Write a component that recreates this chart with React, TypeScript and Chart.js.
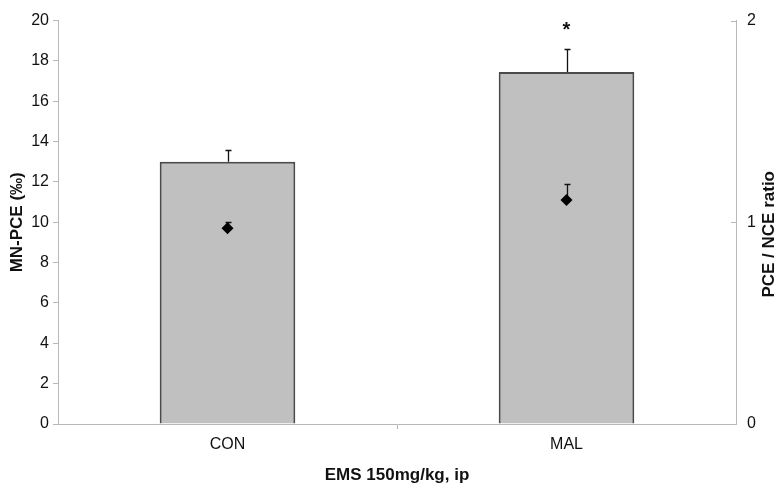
import React, { useEffect, useRef } from 'react';
import { Chart, registerables } from 'chart.js';

Chart.register(...registerables);

const categories = ['CON', 'MAL'];
const mnPce = [13.0, 17.45];
const mnPceErr = [0.6, 1.13];
const ratio = [0.97, 1.11];
const ratioErr = [0.03, 0.08];
const significance = ['', '*'];

const yTitle = 'MN-PCE (‰)';
const y1Title = 'PCE / NCE ratio';
const xTitle = 'EMS 150mg/kg, ip';

const FONT = "'Liberation Sans', Arial, sans-serif";
const TEXT = '#111111';
const AXIS = '#b8b8b8';
const TITLE_SIZE = 17;

const errorPlugin = {
  id: 'errorBars',
  afterDatasetDraw(chart: any, args: any) {
    if (args.index !== 0) return;
    const ctx = chart.ctx;
    const draw = (dsIndex: number, values: number[], errs: number[], scaleId: string) => {
      const meta = chart.getDatasetMeta(dsIndex);
      const scale = chart.scales[scaleId];
      meta.data.forEach((el: any, i: number) => {
        const x = Math.round(el.x) + 0.5;
        const y0 = scale.getPixelForValue(values[i]);
        const y1 = Math.round(scale.getPixelForValue(values[i] + errs[i])) + 0.5;
        ctx.save();
        ctx.strokeStyle = '#111';
        ctx.lineWidth = 1.3;
        ctx.beginPath();
        ctx.moveTo(x, y0);
        ctx.lineTo(x, y1);
        ctx.moveTo(x - 3, y1);
        ctx.lineTo(x + 3, y1);
        ctx.stroke();
        ctx.restore();
      });
    };
    draw(0, mnPce, mnPceErr, 'y');
    draw(1, ratio, ratioErr, 'y1');
  },
  afterDatasetsDraw(chart: any) {
    const ctx = chart.ctx;
    const meta = chart.getDatasetMeta(0);
    const scale = chart.scales.y;
    meta.data.forEach((el: any, i: number) => {
      if (!significance[i]) return;
      const yTop = scale.getPixelForValue(mnPce[i] + mnPceErr[i]);
      ctx.save();
      ctx.fillStyle = TEXT;
      ctx.font = `bold 20px ${FONT}`;
      ctx.textAlign = 'center';
      ctx.textBaseline = 'middle';
      ctx.fillText(significance[i], el.x, yTop - 19);
      ctx.restore();
    });
  },
  afterDraw(chart: any) {
    const ctx = chart.ctx;
    const s = chart.scales.y1;
    ctx.save();
    ctx.strokeStyle = AXIS;
    ctx.lineWidth = 1;
    s.ticks.forEach((t: any) => {
      const y = Math.round(s.getPixelForValue(t.value)) + 0.5;
      ctx.beginPath();
      ctx.moveTo(s.left - 5, y);
      ctx.lineTo(s.left, y);
      ctx.stroke();
    });
    // right axis title, rotated like the left one
    ctx.fillStyle = TEXT;
    ctx.font = `bold ${TITLE_SIZE}px ${FONT}`;
    ctx.textAlign = 'center';
    ctx.textBaseline = 'middle';
    ctx.translate(s.right - 8, (s.top + s.bottom) / 2 + 12);
    ctx.rotate(-Math.PI / 2);
    ctx.fillText(y1Title, 0, 0);
    ctx.restore();
  },
};

export default function App() {
  const ref = useRef<HTMLCanvasElement | null>(null);
  useEffect(() => {
    if (!ref.current) return;
    const chart = new Chart(ref.current, {
      type: 'bar',
      data: {
        labels: categories,
        datasets: [
          {
            type: 'bar',
            data: mnPce,
            yAxisID: 'y',
            backgroundColor: '#c0c0c0',
            borderColor: '#4a4a4a',
            borderWidth: { top: 2, left: 2, right: 2, bottom: 0 },
            borderSkipped: 'bottom',
            barPercentage: 0.4,
            categoryPercentage: 1,
            order: 2,
          } as any,
          {
            type: 'line',
            data: ratio,
            yAxisID: 'y1',
            showLine: false,
            pointStyle: 'rectRot',
            pointRadius: 6,
            pointBackgroundColor: '#000',
            pointBorderColor: '#000',
            pointBorderWidth: 0,
            order: 1,
          } as any,
        ],
      },
      options: {
        responsive: false,
        animation: false,
        layout: { padding: { top: 16, left: 0, right: 0, bottom: 0 } },
        plugins: { legend: { display: false }, tooltip: { enabled: false } },
        scales: {
          x: {
            type: 'category',
            offset: true,
            afterFit: (s: any) => { s.height = 66; },
            grid: {
              offset: true,
              drawOnChartArea: false,
              tickLength: 5,
              color: (c: any) => (c.index === 1 ? AXIS : 'rgba(0,0,0,0)'),
            },
            border: { color: AXIS, width: 1 },
            ticks: { color: TEXT, font: { family: FONT, size: 16 }, padding: 6 },
            title: {
              display: true,
              text: xTitle,
              color: TEXT,
              font: { family: FONT, size: TITLE_SIZE, weight: 'bold', lineHeight: 1 },
              padding: { top: 0, bottom: 6 },
            },
          },
          y: {
            position: 'left',
            min: 0,
            max: 20,
            afterFit: (s: any) => { s.width = 58; },
            ticks: { stepSize: 2, color: TEXT, font: { family: FONT, size: 16 }, padding: 4 },
            grid: { drawOnChartArea: false, tickLength: 5, color: AXIS },
            border: { color: AXIS, width: 1 },
            title: {
              display: true,
              text: yTitle,
              color: TEXT,
              font: { family: FONT, size: TITLE_SIZE, weight: 'bold', lineHeight: 1 },
              padding: { top: 9, bottom: 0 },
            },
          },
          y1: {
            position: 'right',
            min: 0,
            max: 2,
            afterFit: (s: any) => { s.width = 41; },
            ticks: { stepSize: 1, color: TEXT, font: { family: FONT, size: 16 }, padding: 11 },
            grid: { drawOnChartArea: false, drawTicks: false, tickLength: 0, color: AXIS },
            border: { color: AXIS, width: 1 },
            title: { display: false },
          },
        },
      } as any,
      plugins: [errorPlugin],
    });
    return () => chart.destroy();
  }, []);
  return (
    <div style={{ position: 'absolute', left: 0, top: 0, width: 777, height: 490 }}>
      <canvas ref={ref} width={777} height={490} style={{ display: 'block' }} />
    </div>
  );
}
